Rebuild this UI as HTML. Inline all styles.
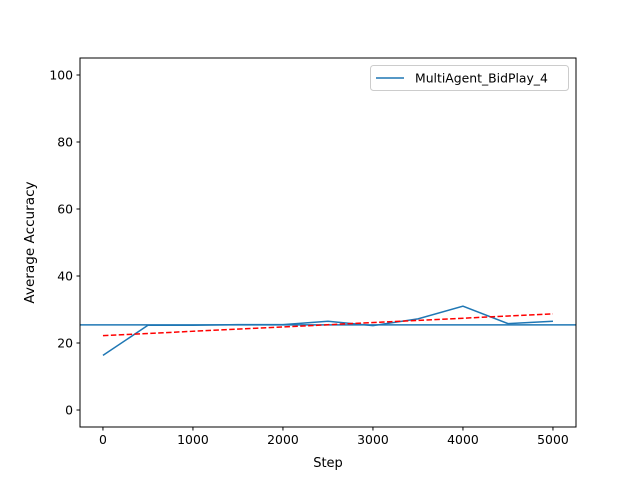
<!DOCTYPE html>
<html><head><meta charset="utf-8"><style>
body{margin:0;background:#fff;}
svg{display:block;font-family:"DejaVu Sans","Liberation Sans",sans-serif;}
</style></head><body>
<svg id="chart" width="640" height="480"></svg>
<script>
const steps=[0,500,1000,1500,2000,2500,3000,3500,4000,4500,5000];
const accuracy=[16.3,25.3,25.3,25.5,25.5,26.5,25.2,27.2,31.0,25.8,26.5];
const meanLine=[25.4];
const trendEnds=[22.2,28.7];
const xTicks=[0,1000,2000,3000,4000,5000];
const yTicks=[0,20,40,60,80,100];
const seriesLabel=["MultiAgent_BidPlay_4"];

const L=80,R=576,T=58,B=427;
const xMin=-255,xMax=5256,yMin=-5.07,yMax=105.07;
const sx=v=>L+(v-xMin)/(xMax-xMin)*(R-L);
const sy=v=>B-(v-yMin)/(yMax-yMin)*(B-T);
const svg=document.getElementById('chart');
const NS='http://www.w3.org/2000/svg';
function mk(tag,attrs,parent){const e=document.createElementNS(NS,tag);for(const k in attrs)e.setAttribute(k,attrs[k]);(parent||svg).appendChild(e);return e;}

let ml=mk('line',{x1:L,x2:R,y1:sy(meanLine[0]),y2:sy(meanLine[0]),stroke:'#1f77b4','stroke-width':1.5});


let pts=steps.map((s,i)=>sx(s)+','+sy(accuracy[i])).join(' ');
let pl=mk('polyline',{points:pts,fill:'none',stroke:'#1f77b4','stroke-width':1.5});


let tl=mk('line',{x1:sx(steps[0]),x2:sx(steps[steps.length-1]),y1:sy(trendEnds[0]),y2:sy(trendEnds[1]),stroke:'#ff0000','stroke-width':1.5,'stroke-dasharray':'5.5,2.4'});


let fr=mk('rect',{x:L,y:T,width:R-L,height:B-T,fill:'none',stroke:'#000','stroke-width':1});


xTicks.forEach(t=>{
  let g=mk('g',{});
  
  
  mk('line',{x1:sx(t),x2:sx(t),y1:B,y2:B+3.5,stroke:'#000'},g);
  let tx=mk('text',{x:sx(t),y:B+17,'text-anchor':'middle','font-size':12.4},g);tx.textContent=t;
});
yTicks.forEach(t=>{
  let g=mk('g',{});
  
  
  mk('line',{x1:L-3.5,x2:L,y1:sy(t),y2:sy(t),stroke:'#000'},g);
  let tx=mk('text',{x:L-7,y:sy(t)+4.5,'text-anchor':'end','font-size':12.4},g);tx.textContent=t;
});
let xt=mk('text',{x:(L+R)/2,y:467,'text-anchor':'middle','font-size':13});xt.textContent='Step';


let yt=mk('text',{x:34,y:(T+B)/2,'text-anchor':'middle','font-size':13.6,transform:`rotate(-90 34 ${(T+B)/2})`});yt.textContent='Average Accuracy';


let lg=mk('g',{});


mk('rect',{x:370.5,y:65.5,width:198,height:25,rx:3,fill:'#fff',stroke:'#ccc'},lg);
mk('line',{x1:376,x2:404,y1:78,y2:78,stroke:'#1f77b4','stroke-width':1.5},lg);
let lt=mk('text',{x:415,y:82.5,'font-size':12.4},lg);lt.textContent=seriesLabel[0];
</script>
</body></html>
